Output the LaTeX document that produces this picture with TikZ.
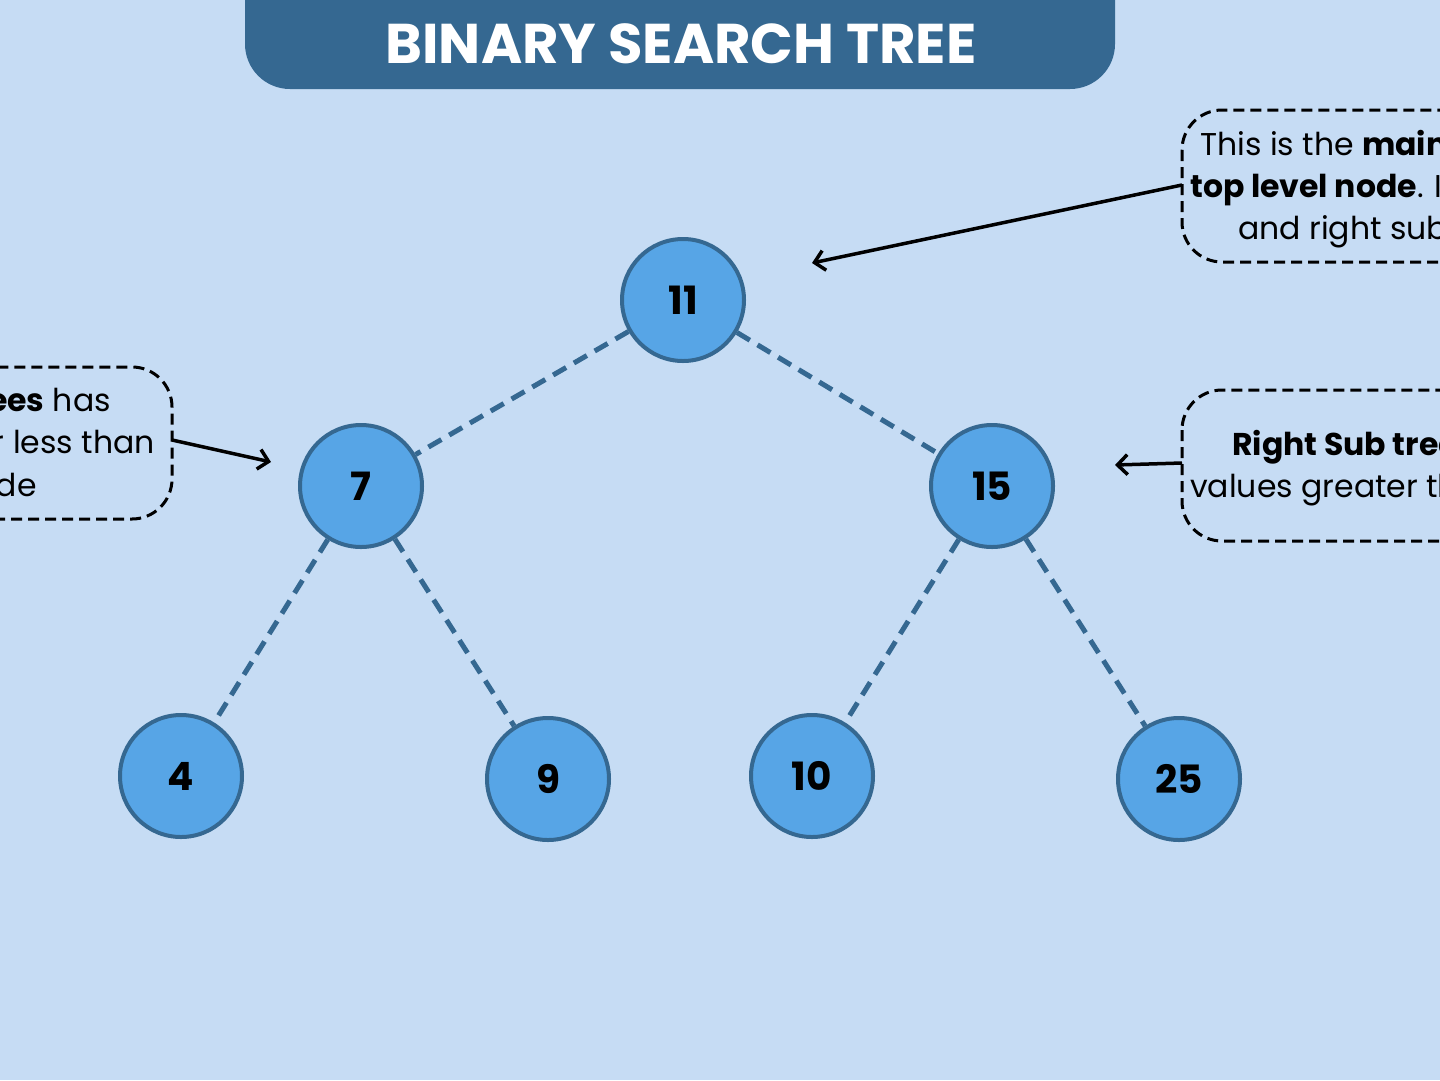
\documentclass[tikz,border=0pt]{standalone}
\usepackage{fontspec}
\setmainfont{Poppins}
\usetikzlibrary{arrows.meta}
\definecolor{bgblue}{HTML}{C6DCF4}
\definecolor{darkblue}{HTML}{356891}
\definecolor{nodeblue}{HTML}{57A5E6}
\tikzset{
  treenode/.style={circle, fill=nodeblue, draw=darkblue, line width=4pt, minimum size=122pt, inner sep=0pt, font=\fontsize{39}{41}\selectfont\bfseries},
  treeedge/.style={draw=darkblue, line width=5pt, dash pattern=on 15pt off 9pt},
  callout/.style={draw=black, line width=3pt, dash pattern=on 11pt off 6pt, rounded corners=40pt},
  pointer/.style={draw=black, line width=3.5pt, -{Straight Barb[length=10pt,width=20pt,line width=3.5pt]}},
  lbl/.style={inner sep=0pt, font=\fontsize{31.5}{33}\selectfont},
}
\begin{document}
\begin{tikzpicture}[x=1pt,y=-1pt]
\useasboundingbox (0,0) rectangle (1440,1080);
\fill[bgblue] (0,0) rectangle (1440,1080);
\clip (0,0) rectangle (1440,1080);
% title banner
\fill[darkblue, rounded corners=45pt] (245,-60) rectangle (1115,89);
\node[text=white, inner sep=0pt, font=\fontsize{56}{58}\selectfont\bfseries] (title) at (681,44) {BINARY SEARCH TREE};
% callout boxes
\draw[callout] (1182,110) rectangle (1600,262);
\draw[callout] (-200,367) rectangle (172,519);
\draw[callout] (1182,390) rectangle (1600,541);
% tree nodes
\node[treenode] (n11) at (683,300) {11};
\node[treenode] (n7) at (361,486) {7};
\node[treenode] (n15) at (992,486) {15};
\node[treenode] (n4) at (181,776) {4};
\node[treenode] (n9) at (548,779) {9};
\node[treenode] (n10) at (812,776) {10};
\node[treenode] (n25) at (1179,779) {25};
% edges
\path[treeedge] (n11) -- (n7);
\path[treeedge] (n11) -- (n15);
\path[treeedge] (n7) -- (n4);
\path[treeedge] (n7) -- (n9);
\path[treeedge] (n15) -- (n10);
\path[treeedge] (n15) -- (n25);
% callout texts
\node[lbl, anchor=base west] (t1) at (1200,155) {This is the \textbf{main node} or};
\node[lbl, anchor=base west] (t2) at (1190,197) {\textbf{top level node}. It has left};
\node[lbl, anchor=base west] (t3) at (1238,239) {and right subtrees};
\node[lbl, anchor=base east] (l1) at (111,411) {\textbf{Left Sub trees} has};
\node[lbl, anchor=base east] (l2) at (155,453) {values smaller or less than};
\node[lbl, anchor=base east] (l3) at (37,496) {the root node};
\node[lbl, anchor=base west] (r1) at (1232,455) {\textbf{Right Sub trees} has};
\node[lbl, anchor=base west] (r2) at (1190,497) {values greater than root};
% pointers
\coordinate (a1s) at (1182,185);
\coordinate (a1e) at (812,263);
\coordinate (a2s) at (172,440);
\coordinate (a2e) at (271,462);
\coordinate (a3s) at (1182,463);
\coordinate (a3e) at (1115,465);
\draw[pointer] (a1s) -- (a1e);
\draw[pointer] (a2s) -- (a2e);
\draw[pointer] (a3s) -- (a3e);
\end{tikzpicture}
\end{document}
